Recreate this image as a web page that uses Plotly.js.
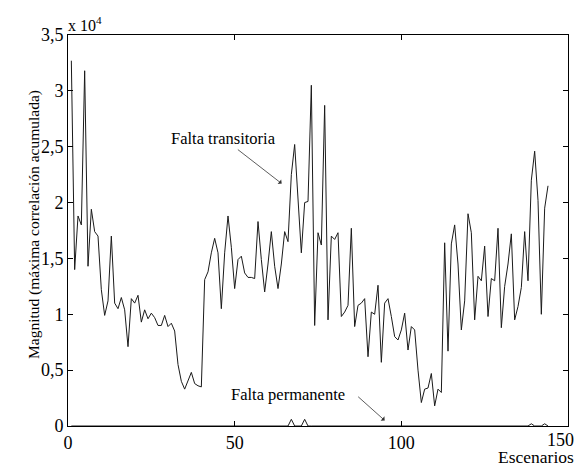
<!DOCTYPE html>
<html>
<head>
<meta charset="utf-8">
<script src="https://cdn.plot.ly/plotly-3.0.1.min.js"></script>
<style>html,body{margin:0;padding:0;background:#fff;}#chart{width:577px;height:467px;}</style>
</head>
<body>
<div id="chart"></div>
<script>
// Magnitud (x 10^4) por escenario
const transitoria = [
  3.27, 1.40, 1.88, 1.80, 3.18, 1.43, 1.94, 1.74, 1.70, 1.22,
  0.99, 1.12, 1.70, 1.10, 1.05, 1.15, 1.04, 0.71, 1.14, 1.10,
  1.17, 0.93, 1.04, 0.96, 1.01, 0.97, 0.90, 0.90, 0.99, 0.89,
  0.92, 0.85, 0.55, 0.40, 0.33, 0.41, 0.48, 0.38, 0.36, 0.35,
  1.31, 1.38, 1.55, 1.68, 1.55, 1.05, 1.55, 1.88, 1.60, 1.23,
  1.49, 1.52, 1.37, 1.33, 1.33, 1.32, 1.83, 1.49, 1.20, 1.45,
  1.74, 1.43, 1.23, 1.45, 1.74, 1.65, 2.25, 2.52, 2.06, 1.55,
  2.00, 2.01, 3.05, 0.90, 1.73, 1.62, 2.87, 0.95, 1.70, 1.67,
  1.73, 0.98, 1.02, 1.08, 1.77, 0.89, 1.08, 1.10, 1.14, 0.62,
  1.02, 1.00, 1.26, 0.57, 1.10, 1.14, 0.98, 0.80, 0.77, 0.86,
  1.01, 0.68, 0.89, 0.86, 0.50, 0.21, 0.33, 0.34, 0.47, 0.18,
  0.33, 0.30, 1.64, 0.67, 1.63, 1.80, 1.45, 0.86, 1.12, 1.90,
  1.73, 0.95, 1.34, 1.30, 1.61, 0.98, 1.32, 1.30, 1.77, 0.88,
  1.25, 1.45, 1.72, 0.95, 1.07, 1.24, 1.74, 1.30, 2.20, 2.46,
  2.02, 1.00, 1.95, 2.15
];
const permanente = [
  0, 0, 0, 0, 0, 0, 0, 0, 0, 0,
  0, 0, 0, 0, 0, 0, 0, 0, 0, 0,
  0, 0, 0, 0, 0, 0, 0, 0, 0, 0,
  0, 0, 0, 0, 0, 0, 0, 0, 0, 0,
  0, 0, 0, 0, 0, 0, 0, 0, 0, 0,
  0, 0, 0, 0, 0, 0, 0, 0, 0, 0,
  0, 0, 0, 0, 0, 0, 0.06, 0, 0, 0,
  0.06, 0, 0, 0, 0, 0, 0, 0, 0, 0,
  0, 0, 0, 0, 0, 0, 0, 0, 0, 0,
  0, 0, 0, 0, 0, 0, 0, 0, 0, 0,
  0, 0, 0, 0, 0, 0, 0, 0, 0, 0,
  0, 0, 0, 0, 0, 0, 0, 0, 0, 0,
  0, 0, 0, 0, 0, 0, 0, 0, 0, 0,
  0, 0, 0, 0, 0, 0, 0, 0, 0.02, 0,
  0, 0, 0.02, 0
];
const escenarios = transitoria.map((_, i) => i + 1);
const yTickVals = [0, 0.5, 1, 1.5, 2, 2.5, 3, 3.5];
const yTickText = ['0', '0,5', '1', '1,5', '2', '2,5', '3', '3,5'];
const xTickVals = [0, 50, 100];
const xMax = 150;

const serif = 'Liberation Serif';
const lineStyle = {color: '#1a1a1a', width: 1};

const traces = [
  {x: escenarios, y: transitoria, type: 'scatter', mode: 'lines', line: lineStyle, name: 'Falta transitoria', hoverinfo: 'skip'},
  {x: escenarios, y: permanente, type: 'scatter', mode: 'lines', line: lineStyle, name: 'Falta permanente', hoverinfo: 'skip'}
];

const axisCommon = {
  showline: true, linecolor: '#000', linewidth: 1, mirror: 'ticks',
  ticks: 'inside', ticklen: 5, tickcolor: '#000', tickwidth: 1,
  showgrid: false, zeroline: false,
  tickfont: {family: serif, size: 18, color: '#000'}
};

const layout = {
  width: 577, height: 467,
  margin: {l: 68, r: 9, t: 35, b: 41},
  paper_bgcolor: '#fff', plot_bgcolor: '#fff',
  showlegend: false,
  font: {family: serif, color: '#000'},
  xaxis: Object.assign({}, axisCommon, {range: [0, xMax], tickvals: xTickVals}),
  yaxis: Object.assign({}, axisCommon, {range: [0, 3.5], tickvals: yTickVals, ticktext: yTickText}),
  annotations: [
    {text: String(xMax), xref: 'x', yref: 'paper', x: xMax, y: 0, xanchor: 'right', yanchor: 'top',
     xshift: 7, yshift: -3, borderpad: 0, showarrow: false, font: {family: serif, size: 18, color: '#000'}},
    {text: 'Magnitud (máxima correlación acumulada)', xref: 'paper', yref: 'paper', x: 0, y: 0.514,
     xshift: -45, textangle: -90, showarrow: false, font: {family: serif, size: 15.5, color: '#000'}},
    {text: 'Escenarios', xref: 'paper', yref: 'paper', x: 1, y: 0, xanchor: 'right', yanchor: 'middle',
     xshift: 7, yshift: -31, borderpad: 0, showarrow: false, font: {family: serif, size: 17.5, color: '#000'}},
    {text: 'x 10<sup>4</sup>', xref: 'paper', yref: 'paper', x: 0, y: 1, xanchor: 'left', yanchor: 'middle',
     xshift: -2, yshift: 11, showarrow: false, font: {family: serif, size: 16, color: '#000'}},
    {text: 'Falta transitoria', xref: 'x', yref: 'y', x: 64.1, y: 2.17, ax: -58, ay: -45, showarrow: true,
     arrowhead: 1, arrowsize: 1.2, arrowwidth: 0.8, arrowcolor: '#333',
     font: {family: serif, size: 16.5, color: '#000'}},
    {text: 'Falta permanente', xref: 'x', yref: 'y', x: 66.1, y: 0.28, showarrow: false,
     font: {family: serif, size: 16.5, color: '#000'}},
    {text: '', xref: 'x', yref: 'y', x: 95, y: 0.05, ax: -28, ay: -25, showarrow: true,
     arrowhead: 1, arrowsize: 1.2, arrowwidth: 0.8, arrowcolor: '#333'}
  ]
};

Plotly.newPlot('chart', traces, layout, {displayModeBar: false, staticPlot: true});
</script>
</body>
</html>
